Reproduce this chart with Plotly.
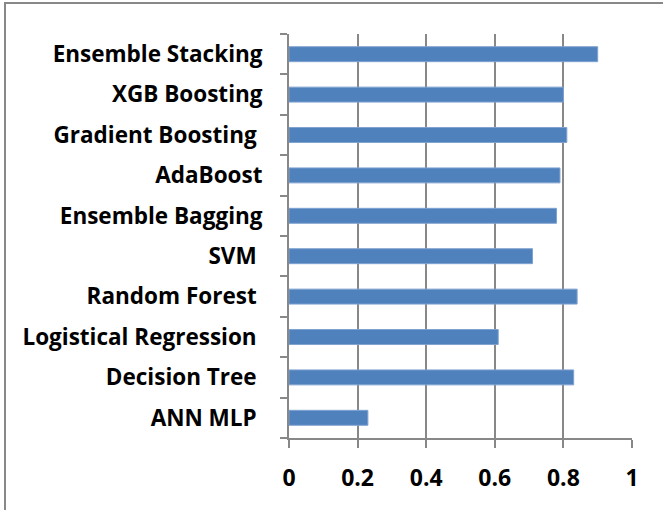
import plotly.graph_objects as go

# Model names, bottom to top, and their scores
models = [
    "ANN MLP\u00a0",
    "Decision Tree\u00a0",
    "Logistical Regression\u00a0",
    "Random Forest\u00a0",
    "SVM\u00a0",
    "Ensemble Bagging",
    "AdaBoost",
    "Gradient Boosting\u00a0",
    "XGB Boosting",
    "Ensemble Stacking",
]
scores = [0.23, 0.83, 0.61, 0.84, 0.71, 0.78, 0.79, 0.81, 0.80, 0.90]

x_ticks = [0, 0.2, 0.4, 0.6, 0.8, 1]
x_tick_text = ["0", "0.2", "0.4", "0.6", "0.8", "1"]

W, H = 663, 510
L, R, T, B = 289, 31, 34, 72
plot_w = W - L - R
plot_h = H - T - B

grey = "#888888"
font = "Open Sans"

fig = go.Figure(
    go.Bar(
        x=scores,
        y=models,
        orientation="h",
        width=0.37,
        marker=dict(color="#4F81BD", line=dict(color="#7FA2D0", width=1)),
        hoverinfo="x+y",
    )
)

fig.update_xaxes(
    range=[0, 1],
    tickvals=x_ticks,
    ticktext=x_tick_text,
    showgrid=True,
    gridcolor=grey,
    gridwidth=2,
    zeroline=False,
    showline=True,
    linecolor=grey,
    linewidth=2,
    ticks="outside",
    ticklen=8,
    tickwidth=2,
    tickcolor=grey,
    ticklabelstandoff=10,
    tickfont=dict(family=font, size=23, color="black", weight="bold"),
    fixedrange=True,
)
fig.update_yaxes(
    type="category",
    range=[-0.5, len(models) - 0.5],
    tickson="boundaries",
    showgrid=False,
    zeroline=False,
    showline=True,
    linecolor=grey,
    linewidth=2,
    ticks="outside",
    ticklen=7,
    tickwidth=2,
    tickcolor=grey,
    ticklabelstandoff=20,
    tickfont=dict(family=font, size=22.5, color="black", weight="bold"),
    fixedrange=True,
)

# Outer frame (top and left edges of the chart box)
def px_x(p):
    return (p - L) / plot_w

def px_y(p):
    return (H - B - p) / plot_h

fig.add_shape(type="line", xref="paper", yref="paper",
              x0=px_x(4), x1=px_x(W + 5), y0=px_y(3), y1=px_y(3),
              line=dict(color=grey, width=2))
fig.add_shape(type="line", xref="paper", yref="paper",
              x0=px_x(5), x1=px_x(5), y0=px_y(3), y1=px_y(H + 5),
              line=dict(color=grey, width=2))

fig.update_layout(
    width=W,
    height=H,
    margin=dict(l=L, r=R, t=T, b=B),
    paper_bgcolor="white",
    plot_bgcolor="white",
    showlegend=False,
    bargap=0.63,
)

fig.write_html("out.html")
